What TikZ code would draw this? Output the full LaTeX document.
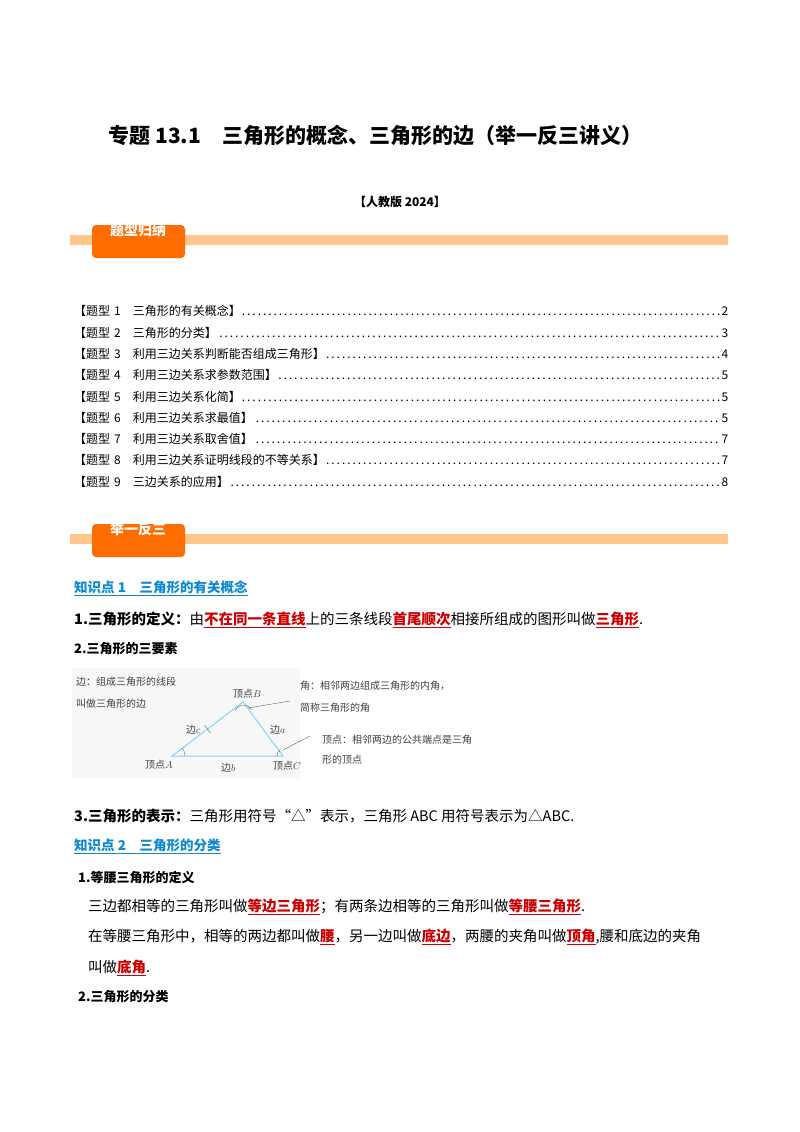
\documentclass[tikz,border=0pt]{standalone}
\usetikzlibrary{calc}
\usepackage{fontspec}
\setmainfont{Liberation Serif}
\newfontfamily\cjk{Noto Sans CJK SC}
\begin{document}
\begin{tikzpicture}[x=1pt,y=-1pt,
  body/.style={anchor=west,inner sep=0,font=\cjk\fontsize{14.5}{16}\selectfont},
  hd/.style={anchor=west,inner sep=0,font=\cjk\bfseries\fontsize{13}{15}\selectfont},
  kp/.style={anchor=west,inner sep=0,font=\cjk\bfseries\fontsize{13.5}{15}\selectfont,text=cyan!70!blue},
  toc/.style={anchor=west,inner sep=0,font=\cjk\fontsize{12}{13}\selectfont,text width=654pt},
  fig/.style={anchor=west,inner sep=0,font=\cjk\fontsize{10}{12}\selectfont,text=black!75}]
\useasboundingbox[fill=white] (0,0) rectangle (800,1132);
\node[anchor=west,font=\cjk\bfseries\fontsize{21}{24}\selectfont] (title) at (105,135) {专题 13.1\quad 三角形的概念、三角形的边（举一反三讲义）};
\node[font=\cjk\bfseries\fontsize{12}{14}\selectfont] (ed) at (400,202) {【人教版 2024】};
% banners
\foreach \y/\t/\n in {240/题型归纳/b1, 539/举一反三/b2}{
  \fill[orange!45] (70,\y-5) rectangle (728,\y+5);
  \fill[orange!85!red, rounded corners=4pt] (92,\y-15) rectangle (185,\y+18);
  \node[font=\cjk\bfseries\fontsize{14}{16}\selectfont,text=white] (\n) at (138,\y-10) {\t};
}
% toc
\foreach \i/\t/\p [count=\k] in {1/三角形的有关概念/2,2/三角形的分类/3,3/利用三边关系判断能否组成三角形/4,4/利用三边关系求参数范围/5,5/利用三边关系化简/5,6/利用三边关系求最值/5,7/利用三边关系取舍值/7,8/利用三边关系证明线段的不等关系/7,9/三边关系的应用/8}{
  \node[toc] (t\k) at (74,290+21.3*\k) {【题型 \i\quad \t】\dotfill\p};
}
\node[kp] (k1) at (74,588) {\underline{知识点 1\quad 三角形的有关概念}};
\node[body] (l1) at (74,620) {\textbf{1.三角形的定义：}由\textcolor{red!80!black}{\textbf{\underline{不在同一条直线}}}上的三条线段\textcolor{red!80!black}{\textbf{\underline{首尾顺次}}}相接所组成的图形叫做\textcolor{red!80!black}{\textbf{\underline{三角形}}}.};
\node[hd] (l2) at (74,649) {2.三角形的三要素};
% figure
\fill[black!3] (72,668) rectangle (300,778);
\coordinate (A) at (172,756); \coordinate (B) at (243,702); \coordinate (C) at (283,756);
\draw[cyan!50,line width=1pt] (A) -- (B) -- (C) -- cycle;
\draw[black!60] ($(A)!0.5!(B)$) ++(-3,-4) -- ++(6,8);
\draw[black!60] (235,711) arc[start angle=200,end angle=330,radius=9];
\draw[black!60] (248,708) -- (290,701);
\draw[black!60] (185,756) arc[start angle=0,end angle=-37,radius=13] ;
\draw[black!60] (277,756) arc[start angle=180,end angle=235,radius=8];
\draw[black!60] (283,750) -- (310,736);
\node[fig] (f1) at (76,682) {边：组成三角形的线段};
\node[fig] (f2) at (76,704) {叫做三角形的边};
\node[fig] (fB) at (233,694) {顶点$B$};
\node[fig] (fc) at (186,730) {边$c$};
\node[fig] (fa) at (270,730) {边$a$};
\node[fig] (fA) at (145,765) {顶点$A$};
\node[fig] (fb) at (221,768) {边$b$};
\node[fig] (fC) at (273,766) {顶点$C$};
\node[fig] (f3) at (300,686) {角：相邻两边组成三角形的内角，};
\node[fig] (f4) at (300,708) {简称三角形的角};
\node[fig] (f5) at (322,740) {顶点：相邻两边的公共端点是三角};
\node[fig] (f6) at (322,760) {形的顶点};
\node[body] (l3) at (74,816) {\textbf{3.三角形的表示：}三角形用符号“△”表示，三角形 ABC 用符号表示为△ABC.};
\node[kp] (k2) at (74,846) {\underline{知识点 2\quad 三角形的分类}};
\node[hd] (l4) at (78,878) {1.等腰三角形的定义};
\node[body] (l5) at (88,907) {三边都相等的三角形叫做\textcolor{red!80!black}{\textbf{\underline{等边三角形}}}；有两条边相等的三角形叫做\textcolor{red!80!black}{\textbf{\underline{等腰三角形}}}.};
\node[body] (l6) at (88,937) {在等腰三角形中，相等的两边都叫做\textcolor{red!80!black}{\textbf{\underline{腰}}}，另一边叫做\textcolor{red!80!black}{\textbf{\underline{底边}}}，两腰的夹角叫做\textcolor{red!80!black}{\textbf{\underline{顶角}}},腰和底边的夹角};
\node[body] (l7) at (88,968) {叫做\textcolor{red!80!black}{\textbf{\underline{底角}}}.};
\node[hd] (l8) at (78,997) {2.三角形的分类};
\end{tikzpicture}
\end{document}
